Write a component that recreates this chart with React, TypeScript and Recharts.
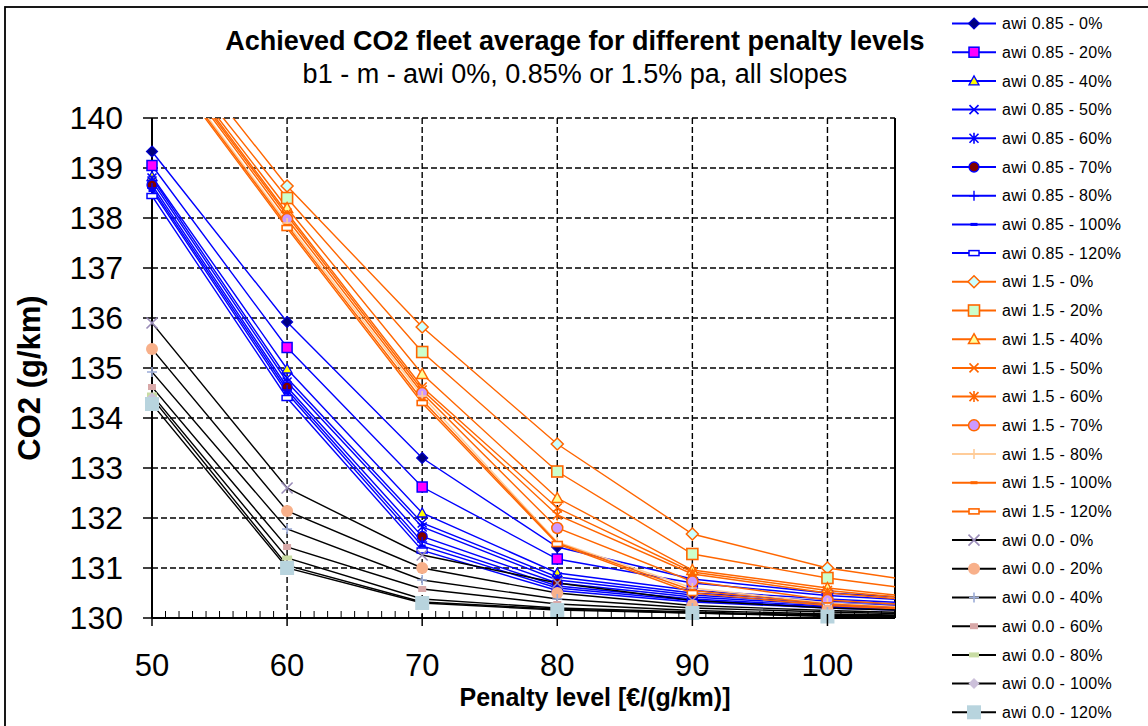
import React from 'react';
import { LineChart, Line, XAxis, YAxis, CartesianGrid, ReferenceLine } from 'recharts';

// ---------- data ----------
const penalty = [50, 60, 70, 80, 90, 100, 110];

// awi 0.85 % p.a.
const awi085_0 = [139.33, 135.92, 133.2, 131.42, 130.78, 130.5, 130.35];
const awi085_20 = [139.05, 135.41, 132.62, 131.18, 130.7, 130.45, 130.3];
const awi085_40 = [138.83, 134.98, 132.1, 130.9, 130.55, 130.38, 130.25];
const awi085_50 = [138.8, 134.8, 131.9, 130.82, 130.5, 130.34, 130.22];
const awi085_60 = [138.74, 134.72, 131.82, 130.76, 130.46, 130.3, 130.2];
const awi085_70 = [138.66, 134.62, 131.63, 130.7, 130.42, 130.27, 130.18];
const awi085_80 = [138.6, 134.56, 131.52, 130.64, 130.38, 130.24, 130.16];
const awi085_100 = [138.55, 134.5, 131.44, 130.6, 130.35, 130.22, 130.14];
const awi085_120 = [138.44, 134.4, 131.35, 130.55, 130.32, 130.2, 130.12];

// awi 1.5 % p.a.
const awi15_0 = [142.05, 138.64, 135.82, 133.48, 131.68, 131.0, 130.6];
const awi15_20 = [141.78, 138.4, 135.32, 132.93, 131.28, 130.8, 130.45];
const awi15_40 = [141.73, 138.2, 134.88, 132.4, 130.96, 130.6, 130.32];
const awi15_50 = [141.7, 138.1, 134.62, 132.2, 130.92, 130.55, 130.3];
const awi15_60 = [141.66, 138.05, 134.56, 132.06, 130.88, 130.5, 130.28];
const awi15_70 = [141.62, 137.98, 134.5, 131.8, 130.73, 130.36, 130.2];
const awi15_80 = [141.5, 137.9, 134.44, 131.52, 130.6, 130.3, 130.16];
const awi15_100 = [141.46, 137.85, 134.36, 131.5, 130.55, 130.28, 130.14];
const awi15_120 = [141.42, 137.8, 134.3, 131.48, 130.5, 130.25, 130.12];

// awi 0.0 % p.a.
const awi00_0 = [135.9, 132.6, 131.26, 130.7, 130.35, 130.2, 130.12];
const awi00_20 = [135.38, 132.14, 131.0, 130.5, 130.25, 130.15, 130.08];
const awi00_40 = [134.92, 131.78, 130.76, 130.38, 130.2, 130.12, 130.06];
const awi00_60 = [134.62, 131.42, 130.58, 130.28, 130.15, 130.08, 130.04];
const awi00_80 = [134.46, 131.2, 130.38, 130.2, 130.12, 130.06, 130.03];
const awi00_100 = [134.4, 131.05, 130.32, 130.18, 130.1, 130.05, 130.02];
const awi00_120 = [134.28, 131.0, 130.3, 130.16, 130.1, 130.03, 130.01];

const xTicks = Array.from({ length: 56 }, (_, i) => 50 + i);
const xMajorTicks = [60, 70, 80, 90, 100];
const yTicks = [130, 131, 132, 133, 134, 135, 136, 137, 138, 139, 140];

const TITLE = 'Achieved CO2 fleet average for different penalty levels';
const SUBTITLE = 'b1 - m - awi 0%, 0.85% or 1.5% pa, all slopes';
const X_LABEL = 'Penalty level [€/(g/km)]';
const Y_LABEL = 'CO2 (g/km)';

// ---------- styles ----------
type MK = { kind: string; fill?: string; stroke?: string; size: number; w?: number; h?: number; sw?: number };
type Series = { name: string; values: number[]; stroke: string; mk: MK };

const BLUE = '#0000FF';
const ORANGE = '#FF6600';
const BLACK = '#000000';

const series: Series[] = [
  { name: 'awi 0.85 - 0%', values: awi085_0, stroke: BLUE, mk: { kind: 'diamond', fill: '#000080', stroke: '#0000CC', size: 11 } },
  { name: 'awi 0.85 - 20%', values: awi085_20, stroke: BLUE, mk: { kind: 'square', fill: '#FF00FF', stroke: BLUE, size: 10, sw: 1.5 } },
  { name: 'awi 0.85 - 40%', values: awi085_40, stroke: BLUE, mk: { kind: 'triangle', fill: '#FFFF00', stroke: BLUE, size: 10, sw: 1.3 } },
  { name: 'awi 0.85 - 50%', values: awi085_50, stroke: BLUE, mk: { kind: 'x', stroke: BLUE, size: 9, sw: 1.6 } },
  { name: 'awi 0.85 - 60%', values: awi085_60, stroke: BLUE, mk: { kind: 'star', stroke: BLUE, size: 9, sw: 1.6 } },
  { name: 'awi 0.85 - 70%', values: awi085_70, stroke: BLUE, mk: { kind: 'circle', fill: '#800000', stroke: BLUE, size: 10, sw: 1.3 } },
  { name: 'awi 0.85 - 80%', values: awi085_80, stroke: BLUE, mk: { kind: 'plus', stroke: BLUE, size: 10, sw: 1.4 } },
  { name: 'awi 0.85 - 100%', values: awi085_100, stroke: BLUE, mk: { kind: 'rect', fill: BLUE, size: 7, w: 7, h: 3 } },
  { name: 'awi 0.85 - 120%', values: awi085_120, stroke: BLUE, mk: { kind: 'rect', fill: '#FFFFFF', stroke: BLUE, size: 10, w: 10, h: 5, sw: 1.5 } },
  { name: 'awi 1.5 - 0%', values: awi15_0, stroke: ORANGE, mk: { kind: 'diamond', fill: '#CCFFFF', stroke: ORANGE, size: 12, sw: 1.5 } },
  { name: 'awi 1.5 - 20%', values: awi15_20, stroke: ORANGE, mk: { kind: 'square', fill: '#CCFFCC', stroke: ORANGE, size: 11, sw: 1.6 } },
  { name: 'awi 1.5 - 40%', values: awi15_40, stroke: ORANGE, mk: { kind: 'triangle', fill: '#FFFF99', stroke: ORANGE, size: 11, sw: 1.5 } },
  { name: 'awi 1.5 - 50%', values: awi15_50, stroke: ORANGE, mk: { kind: 'x', stroke: ORANGE, size: 9, sw: 1.6 } },
  { name: 'awi 1.5 - 60%', values: awi15_60, stroke: ORANGE, mk: { kind: 'star', stroke: ORANGE, size: 9, sw: 1.6 } },
  { name: 'awi 1.5 - 70%', values: awi15_70, stroke: ORANGE, mk: { kind: 'circle', fill: '#CC99FF', stroke: ORANGE, size: 11, sw: 1.5 } },
  { name: 'awi 1.5 - 80%', values: awi15_80, stroke: '#FFCC99', mk: { kind: 'plus', stroke: '#FFCC99', size: 10, sw: 1.6 } },
  { name: 'awi 1.5 - 100%', values: awi15_100, stroke: ORANGE, mk: { kind: 'rect', fill: ORANGE, size: 7, w: 7, h: 3 } },
  { name: 'awi 1.5 - 120%', values: awi15_120, stroke: ORANGE, mk: { kind: 'rect', fill: '#FFFFFF', stroke: ORANGE, size: 10, w: 10, h: 5, sw: 1.6 } },
  { name: 'awi 0.0 - 0%', values: awi00_0, stroke: BLACK, mk: { kind: 'x', stroke: '#9A8CB8', size: 11, sw: 1.6 } },
  { name: 'awi 0.0 - 20%', values: awi00_20, stroke: BLACK, mk: { kind: 'circle', fill: '#F8B08A', size: 12 } },
  { name: 'awi 0.0 - 40%', values: awi00_40, stroke: BLACK, mk: { kind: 'plus', stroke: '#9CACD8', size: 10, sw: 1.6 } },
  { name: 'awi 0.0 - 60%', values: awi00_60, stroke: BLACK, mk: { kind: 'rect', fill: '#D8A8A8', size: 8, w: 8, h: 6 } },
  { name: 'awi 0.0 - 80%', values: awi00_80, stroke: BLACK, mk: { kind: 'rect', fill: '#C8DCA4', size: 10, w: 10, h: 5 } },
  { name: 'awi 0.0 - 100%', values: awi00_100, stroke: BLACK, mk: { kind: 'diamond', fill: '#CCC0DA', size: 11 } },
  { name: 'awi 0.0 - 120%', values: awi00_120, stroke: BLACK, mk: { kind: 'square', fill: '#B8D4DE', size: 14 } },
];

const X_MIN = 50;
const X_MAX = 105;
const Y_MIN = 130;
const Y_MAX = 140;

const chartData = penalty.map((x, i) => {
  const row: Record<string, number> = { x };
  series.forEach((s, k) => {
    row['s' + k] = s.values[i];
  });
  return row;
});

const markerData = (s: Series) =>
  penalty
    .map((x, i) => ({ x, y: s.values[i] }))
    .filter((p) => p.x <= X_MAX && p.y <= Y_MAX && p.y >= Y_MIN);

// ---------- marker drawing ----------
function drawMarker(cx: number, cy: number, mk: MK) {
  const h = mk.size / 2;
  const sw = mk.sw ?? 1.2;
  const st = mk.stroke ?? 'none';
  const fl = mk.fill ?? 'none';
  switch (mk.kind) {
    case 'diamond':
      return <polygon points={`${cx},${cy - h} ${cx + h},${cy} ${cx},${cy + h} ${cx - h},${cy}`} fill={fl} stroke={st} strokeWidth={sw} />;
    case 'square':
      return <rect x={cx - h} y={cy - h} width={mk.size} height={mk.size} fill={fl} stroke={st} strokeWidth={sw} />;
    case 'triangle':
      return <polygon points={`${cx},${cy - h} ${cx + h},${cy + h * 0.8} ${cx - h},${cy + h * 0.8}`} fill={fl} stroke={st} strokeWidth={sw} />;
    case 'x':
      return <path d={`M${cx - h},${cy - h}L${cx + h},${cy + h}M${cx - h},${cy + h}L${cx + h},${cy - h}`} fill="none" stroke={st} strokeWidth={sw} />;
    case 'star':
      return <path d={`M${cx - h},${cy - h}L${cx + h},${cy + h}M${cx - h},${cy + h}L${cx + h},${cy - h}M${cx},${cy - h - 1}L${cx},${cy + h + 1}`} fill="none" stroke={st} strokeWidth={sw} />;
    case 'circle':
      return <circle cx={cx} cy={cy} r={h} fill={fl} stroke={st} strokeWidth={sw} />;
    case 'plus':
      return <path d={`M${cx - h},${cy}L${cx + h},${cy}M${cx},${cy - h}L${cx},${cy + h}`} fill="none" stroke={st} strokeWidth={sw} />;
    case 'rect': {
      const w = mk.w ?? mk.size;
      const hh = mk.h ?? mk.size / 2;
      return <rect x={cx - w / 2} y={cy - hh / 2} width={w} height={hh} fill={fl} stroke={st} strokeWidth={sw} />;
    }
    default:
      return null;
  }
}

const DotMarker = (props: any) => {
  const { cx, cy, mk } = props;
  if (typeof cx !== 'number' || typeof cy !== 'number' || isNaN(cx) || isNaN(cy)) return <g />;
  return <g>{drawMarker(cx, cy, mk)}</g>;
};

const XTick = (props: any) => {
  const { x, y, payload } = props;
  const v = payload.value as number;
  const major = v % 10 === 0;
  return (
    <g>
      {major ? (
        <line x1={x} x2={x} y1={y - 4} y2={y + 8} stroke="#000" strokeWidth={1.5} />
      ) : (
        <line x1={x} x2={x} y1={y - 7} y2={y} stroke="#000" strokeWidth={1} />
      )}
      {major && v <= 100 && (
        <text x={x} y={y + 58} textAnchor="middle" fontSize={31} fill="#000">
          {v}
        </text>
      )}
    </g>
  );
};

const FONT = '"Liberation Sans", Arial, Helvetica, sans-serif';

export default function App() {
  return (
    <div style={{ position: 'absolute', left: 0, top: 0, width: 1148, height: 726, overflow: 'hidden', background: '#fff', fontFamily: FONT }}>
      <div style={{ position: 'absolute', left: 0, top: 0 }}>
        <LineChart width={1148} height={726} data={chartData} margin={{ top: 118, right: 253, bottom: 48, left: 92 }}>
          <XAxis xAxisId="m" dataKey="x" type="number" domain={[X_MIN, X_MAX]} ticks={xMajorTicks} hide />
          <YAxis yAxisId="m" type="number" domain={[Y_MIN, Y_MAX]} hide />
          <CartesianGrid xAxisId="m" stroke="#000" strokeWidth={1.4} strokeDasharray="6 3" fill="none" />
          <XAxis
            dataKey="x"
            type="number"
            domain={[X_MIN, X_MAX]}
            allowDataOverflow
            ticks={xTicks}
            interval={0}
            height={60}
            tickSize={0}
            tickMargin={0}
            tickLine={false}
            axisLine={{ stroke: '#000', strokeWidth: 2 }}
            tick={<XTick />}
          />
          <YAxis
            type="number"
            domain={[Y_MIN, Y_MAX]}
            allowDataOverflow
            ticks={yTicks}
            interval={0}
            width={60}
            tickSize={9}
            tickMargin={20}
            tickLine={{ stroke: '#000', strokeWidth: 1.5 }}
            axisLine={{ stroke: '#000', strokeWidth: 2 }}
            tick={{ fontSize: 32, fill: '#000', fontFamily: FONT }}
          />
          <ReferenceLine x={X_MAX} stroke="#000" strokeWidth={2} />
          {series.map((s, k) => (
            <Line
              key={'l' + k}
              dataKey={'s' + k}
              stroke={s.stroke}
              strokeWidth={1.4}
              dot={false}
              activeDot={false}
              isAnimationActive={false}
              legendType="none"
            />
          ))}
          {series.map((s, k) => (
            <Line
              key={'m' + k}
              data={markerData(s)}
              xAxisId="m"
              yAxisId="m"
              dataKey="y"
              stroke="none"
              dot={<DotMarker mk={s.mk} />}
              activeDot={false}
              isAnimationActive={false}
              legendType="none"
            />
          ))}
        </LineChart>
      </div>
      <svg width={1148} height={726} style={{ position: 'absolute', left: 0, top: 0, pointerEvents: 'none', fontFamily: FONT }}>
        <rect x={5} y={7} width={1160} height={740} fill="none" stroke="#000" strokeWidth={1.8} />
        <text x={575} y={50} textAnchor="middle" fontSize={27} fontWeight="bold" fill="#000">
          {TITLE}
        </text>
        <text x={575} y={83} textAnchor="middle" fontSize={27} fill="#000">
          {SUBTITLE}
        </text>
        <text x={595} y={706} textAnchor="middle" fontSize={25} fontWeight="bold" fill="#000">
          {X_LABEL}
        </text>
        <text transform="translate(40,378) rotate(-90)" textAnchor="middle" fontSize={31} fontWeight="bold" fill="#000">
          {Y_LABEL}
        </text>
        {series.map((s, i) => {
          const y = 23.5 + i * 28.7;
          return (
            <g key={'lg' + i}>
              <line x1={952} x2={996} y1={y} y2={y} stroke={s.stroke} strokeWidth={2} />
              {drawMarker(974, y, s.mk)}
              <text x={1002} y={y} dy="0.35em" fontSize={16} letterSpacing={0.3} fill="#000">
                {s.name}
              </text>
            </g>
          );
        })}
      </svg>
    </div>
  );
}
